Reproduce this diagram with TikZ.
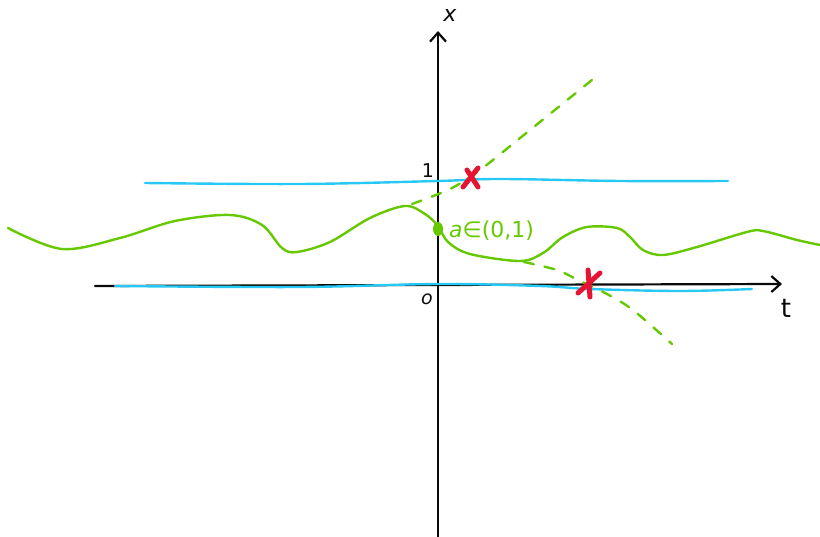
\documentclass[tikz,border=0pt]{standalone}
\usepackage{fontspec}
\setmainfont{DejaVu Sans}
\usetikzlibrary{arrows.meta,shapes.geometric}
\definecolor{penblack}{RGB}{10,10,10}
\definecolor{pengreen}{RGB}{102,200,0}
\definecolor{penblue}{RGB}{40,200,245}
\definecolor{penred}{RGB}{230,20,50}
\begin{document}
\begin{tikzpicture}[x=1pt,y=-1pt,
  axisline/.style={penblack,line width=2.2pt,line cap=round,-{Straight Barb[length=9pt,width=16pt,line width=2.2pt]}},
  bluepen/.style={penblue,line width=2.4pt,line cap=round},
  greenpen/.style={pengreen,line width=2.4pt,line cap=round,line join=round},
  greendash/.style={pengreen,line width=2.4pt,line cap=round,dash pattern=on 10pt off 11pt},
  redx/.style={penred,line width=5pt,line cap=round},
  hand/.style={inner sep=0pt,font=\fontsize{22}{26}\selectfont}]
\useasboundingbox (0,0) rectangle (820,537);
% axes
\coordinate (xbot) at (438,537);
\coordinate (xtop) at (438,31);
\coordinate (tleft) at (95,286);
\coordinate (tright) at (782,284);
\draw[axisline] (xbot) -- (xtop);
\draw[axisline] (tleft) -- (tright);
\coordinate (tick1a) at (431,181);
\coordinate (tick1b) at (444,181);
\draw[penblack,line width=2.4pt] (tick1a) -- (tick1b);
% blue lines
\draw[bluepen] plot[smooth,tension=0.6] coordinates {(145,183) (300,184) (438,181) (500,179) (620,181) (728,181)};
\draw[bluepen] plot[smooth,tension=0.6] coordinates {(115,286) (300,287) (438,284) (540,286) (590,289) (680,291) (752,289)};
% labels
\node[hand,penblack] (xlab) at (450,15) {\textit{x}};
\node[hand,penblack,font=\fontsize{26}{30}\selectfont] (tlab) at (786,308) {t};
\node[hand,penblack,font=\fontsize{19}{22}\selectfont] (one) at (428,171) {1};
\node[hand,penblack,font=\fontsize{19}{22}\selectfont] (zero) at (427,299) {\textit{o}};
% green curve
\draw[greenpen] plot[smooth,tension=0.55] coordinates {
 (8,228) (62,249) (120,238) (175,221) (230,215) (262,225) (282,248) (297,252) (330,242) (370,218) (405,206) (425,214) (438,226)
 (448,242) (470,254) (520,261) (543,253) (563,237) (587,227) (617,228) (630,237) (643,250) (663,255) (697,247) (747,232) (763,231) (797,240) (820,245)};
% dashed extensions
\draw[greendash] plot[smooth,tension=0.5] coordinates {(412,204) (450,189) (480,170) (530,130) (592,80)};
\draw[greendash] plot[smooth,tension=0.5] coordinates {(524,262) (557,270) (580,281) (607,294) (633,310) (672,344)};
% point a
\node[fill=pengreen,ellipse,minimum width=10pt,minimum height=14pt,inner sep=0pt] (adot) at (438,229) {};
\node[hand,pengreen,anchor=west] (alab) at (449,231) {\textit{a}∈(0,1)};
% red crosses
\draw[redx] (467,170) -- (478,187);
\draw[redx] (478,168) -- (463,187);
\draw[redx] (600,273) -- (578,293);
\draw[redx] (588,270) -- (590,297);
\end{tikzpicture}
\end{document}
